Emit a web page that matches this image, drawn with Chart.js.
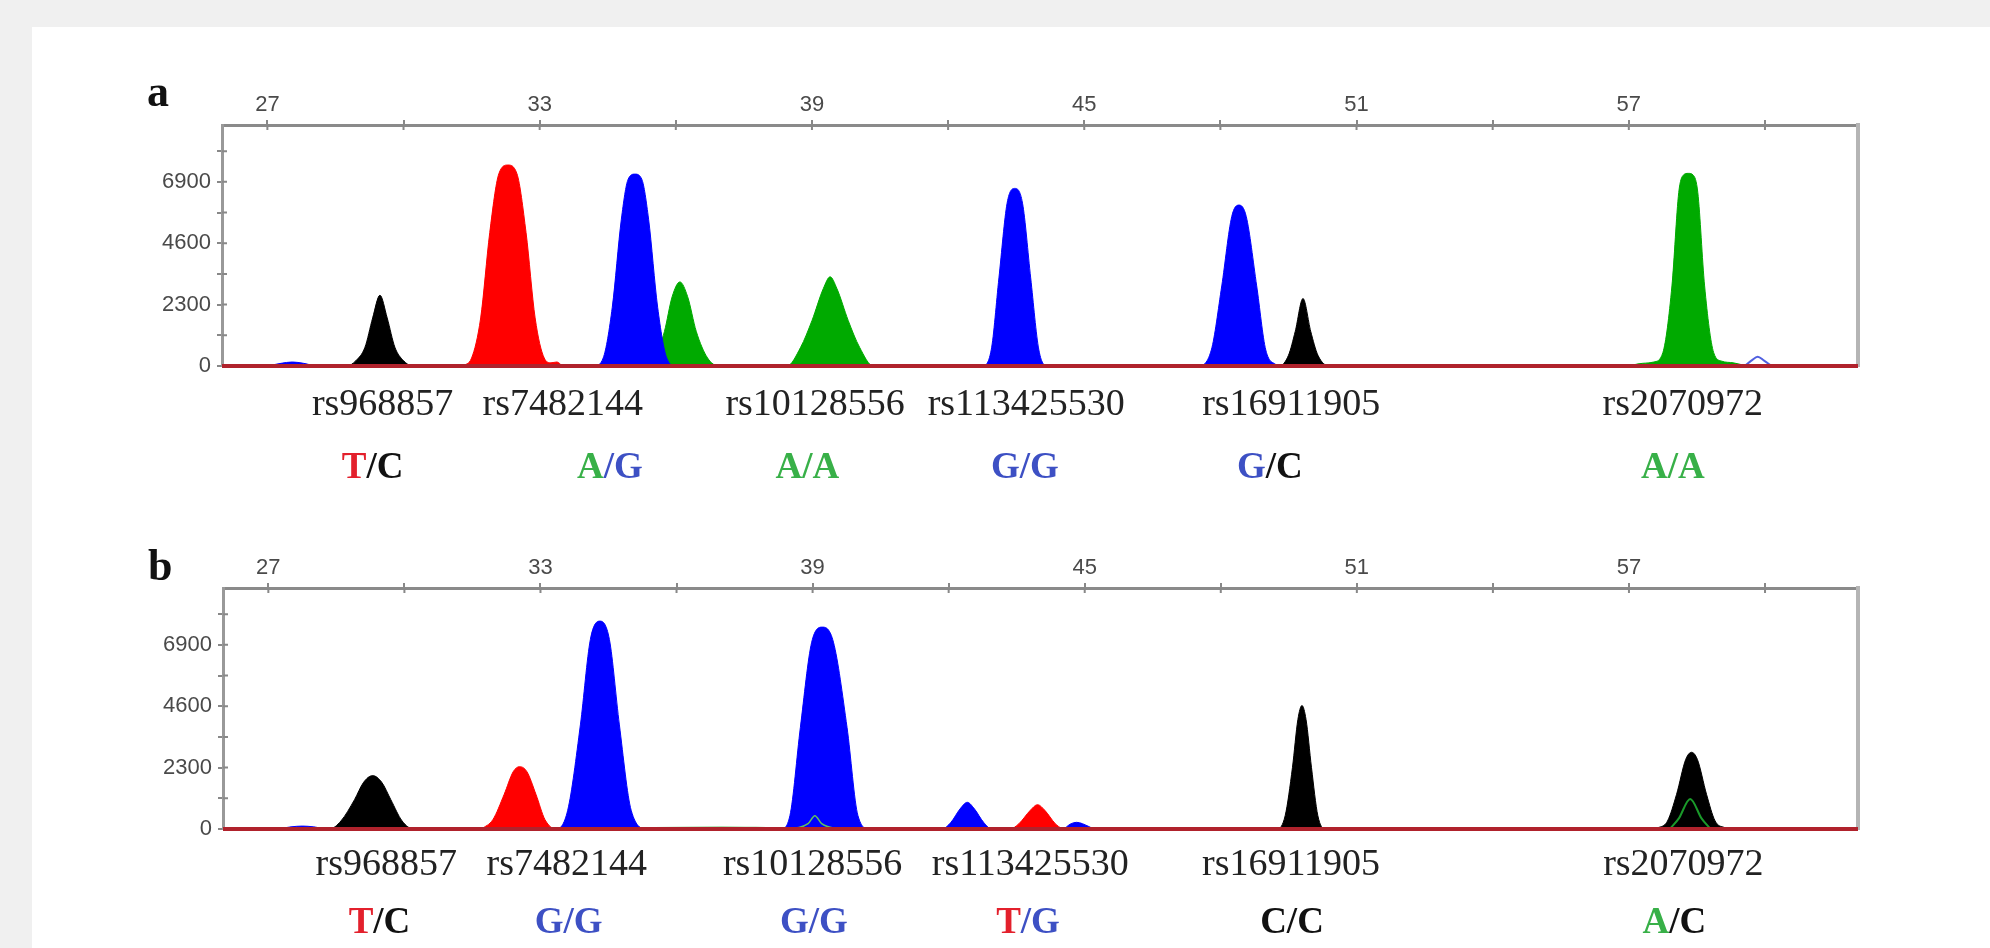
<!DOCTYPE html>
<html>
<head>
<meta charset="utf-8">
<script src="https://cdn.jsdelivr.net/npm/chart.js@4.4.1/dist/chart.umd.min.js"></script>
<style>
  html, body { margin: 0; padding: 0; background: #f0f0f0; width: 1990px; height: 948px; overflow: hidden; }
  #sheet { position: absolute; left: 32px; top: 27px; width: 1958px; height: 921px; background: #fff; }
  canvas { position: absolute; left: 0; }
  #ca { top: 0; }
  #cb { top: 480px; }
</style>
</head>
<body>
<div id="sheet">
  <canvas id="ca" width="1958" height="480"></canvas>
  <canvas id="cb" width="1958" height="441"></canvas>
</div>
<script>
// axis ticks (fragment size on top, RFU on the left)
const xTicks = [27, 30, 33, 36, 39, 42, 45, 48, 51, 54, 57, 60];
const xLabels = [27, 33, 39, 45, 51, 57];
const yTicks = [0, 1150, 2300, 3450, 4600, 5750, 6900, 8050];
const yLabels = [0, 2300, 4600, 6900];

const markerNames = ['rs968857', 'rs7482144', 'rs10128556', 'rs113425530', 'rs16911905', 'rs2070972'];

// panel a
const aNamePos = [29.54, 33.51, 39.07, 43.72, 49.56, 58.19];
const aGenotypes = ['T/C', 'A/G', 'A/A', 'G/G', 'G/C', 'A/A'];
const aGenoPos = [29.32, 34.55, 38.9, 43.69, 49.09, 57.97];

const aBlack = [[26, 0], [28.75, 0], [28.95, 200], [29.15, 700], [29.32, 1800], [29.48, 2650], [29.64, 1800], [29.81, 700], [30.0, 200], [30.2, 0],
  [49.3, 0], [49.5, 400], [49.65, 1300], [49.82, 2528], [49.99, 1300], [50.15, 400], [50.4, 0], [62, 0]];
const aRed = [[31.3, 0], [31.5, 300], [31.7, 1800], [31.9, 5000], [32.1, 7200], [32.3, 7530], [32.5, 7200], [32.7, 5000],
  [32.9, 1800], [33.1, 300], [33.25, 120], [33.38, 150], [33.5, 0]];
const aBlue = [[27.0, 0], [27.3, 100], [27.55, 150], [27.8, 100], [28.1, 0],
  [34.2, 0], [34.4, 300], [34.6, 2200], [34.8, 5500], [34.95, 7000], [35.1, 7190], [35.25, 7000], [35.4, 5500], [35.6, 2200], [35.8, 300], [36.0, 0],
  [42.75, 0], [42.95, 600], [43.12, 3300], [43.3, 6100], [43.47, 6655], [43.64, 6100], [43.82, 3300], [44.0, 600], [44.2, 0],
  [47.5, 0], [47.8, 600], [48.03, 3000], [48.25, 5600], [48.41, 6030], [48.57, 5600], [48.8, 3000], [49.0, 600], [49.25, 0]];
const aGreen = [[35.35, 0], [35.55, 300], [35.75, 1300], [35.92, 2600], [36.09, 3150], [36.26, 2600], [36.45, 1300], [36.7, 300], [36.95, 0],
  [38.45, 0], [38.75, 700], [39.0, 1700], [39.25, 2900], [39.4, 3340], [39.55, 2900], [39.8, 1700], [40.05, 700], [40.35, 0],
  [56.9, 0], [57.3, 100], [57.55, 150], [57.75, 500], [57.95, 3000], [58.1, 6500], [58.2, 7150], [58.31, 7218],
  [58.42, 7150], [58.52, 6500], [58.67, 3000], [58.87, 500], [59.05, 180], [59.3, 120], [59.6, 0]];
const aBlueOpen = [[59.55, 0], [59.7, 200], [59.84, 350], [59.98, 200], [60.15, 0]];

// panel b
const bNamePos = [29.6, 33.58, 39.0, 43.8, 49.55, 58.2];
const bGenotypes = ['T/C', 'G/G', 'G/G', 'T/G', 'C/C', 'A/C'];
const bGenoPos = [29.45, 33.62, 39.03, 43.75, 49.57, 58.0];

const bBlack = [[26, 0], [28.35, 0], [28.6, 300], [28.9, 1100], [29.1, 1750], [29.3, 2000], [29.5, 1750], [29.7, 1100], [29.95, 300], [30.2, 0],
  [49.25, 0], [49.42, 500], [49.58, 2300], [49.7, 4100], [49.79, 4626], [49.88, 4100], [50.0, 2300], [50.14, 500], [50.3, 0],
  [57.3, 0], [57.7, 80], [57.85, 300], [58.05, 1300], [58.25, 2600], [58.38, 2875], [58.51, 2600], [58.71, 1300], [58.9, 300],
  [59.1, 60], [59.4, 0], [62, 0]];
const bRed = [[31.7, 0], [31.95, 350], [32.2, 1300], [32.4, 2150], [32.54, 2337], [32.7, 2150], [32.9, 1300], [33.1, 350], [33.35, 0],
  [43.35, 0], [43.55, 200], [43.8, 700], [43.96, 912], [44.12, 700], [44.35, 200], [44.5, 0]];
const bBlue = [[27.2, 0], [27.5, 80], [27.75, 110], [28.0, 80], [28.3, 0],
  [33.35, 0], [33.6, 700], [33.88, 3900], [34.1, 7100], [34.31, 7790], [34.52, 7100], [34.74, 3900], [35.0, 700], [35.35, 0],
  [38.3, 0], [38.5, 500], [38.73, 3800], [38.98, 7000], [39.22, 7565], [39.46, 7000], [39.76, 3800], [40.0, 500], [40.25, 0],
  [41.85, 0], [42.05, 250], [42.25, 750], [42.41, 1000], [42.57, 750], [42.77, 250], [42.95, 0],
  [44.5, 0], [44.7, 200], [44.82, 250], [44.95, 200], [45.2, 0]];
const bGreenLine = [[34.5, 0], [35.5, 50], [37, 70], [38.5, 40], [38.9, 200], [39.05, 500], [39.2, 200], [39.5, 30], [40, 0]];
const bGreenOpen = [[57.9, 0], [58.1, 400], [58.35, 1125], [58.6, 400], [58.8, 0]];

const baseline = [[26, 0], [62.05, 0]];

const alleleColor = { A: '#38b048', C: '#111111', G: '#3d50c4', T: '#e3202c' };

function trace(points, color, order, filled, width) {
  return {
    data: points.map(([x, y]) => ({ x, y })),
    borderColor: color,
    backgroundColor: color,
    borderWidth: width || 1,
    fill: filled ? 'origin' : false,
    order: order,
    clip: false
  };
}

const markerText = {
  id: 'markerText',
  afterDraw(chart, args, o) {
    const ctx = chart.ctx, xs = chart.scales.x, ys = chart.scales.y, area = chart.chartArea;
    ctx.save();
    // inner half of the tick marks
    ctx.strokeStyle = '#888';
    ctx.lineWidth = 2;
    ctx.beginPath();
    xTicks.forEach(v => { const px = xs.getPixelForValue(v); ctx.moveTo(px, area.top); ctx.lineTo(px, area.top + 5); });
    yTicks.slice(1).forEach(v => { const py = ys.getPixelForValue(v); ctx.moveTo(area.left, py); ctx.lineTo(area.left + 5, py); });
    ctx.stroke();

    ctx.textBaseline = 'alphabetic';
    ctx.fillStyle = '#111';
    ctx.font = 'bold 44px "Liberation Serif"';
    ctx.textAlign = 'left';
    ctx.fillText(o.letter, area.left - 75, area.top + o.letterDy);

    ctx.font = '38px "Liberation Serif"';
    ctx.fillStyle = '#222';
    ctx.textAlign = 'center';
    markerNames.forEach((n, i) => ctx.fillText(n, xs.getPixelForValue(o.namePos[i]), area.bottom + o.nameDy));

    ctx.font = 'bold 37px "Liberation Serif"';
    ctx.textAlign = 'left';
    o.genos.forEach((g, i) => {
      const [a1, a2] = g.split('/');
      let x = xs.getPixelForValue(o.genoPos[i]) - ctx.measureText(g).width / 2;
      [[a1, alleleColor[a1]], ['/' + a2, alleleColor[a2]]].forEach(([t, c]) => {
        ctx.fillStyle = c;
        ctx.fillText(t, x, area.bottom + o.genoDy);
        x += ctx.measureText(t).width;
      });
    });
    ctx.restore();
  }
};

const tickFont = { family: '"Liberation Sans", Arial, sans-serif', size: 22 };

function makeChart(id, sets, o, pad) {
  return new Chart(document.getElementById(id), {
    type: 'line',
    data: { datasets: sets },
    options: {
      responsive: false,
      animation: false,
      devicePixelRatio: 1,
      layout: { padding: pad },
      plugins: { legend: { display: false }, tooltip: { enabled: false }, markerText: o },
      elements: { point: { radius: 0 }, line: { cubicInterpolationMode: 'monotone' } },
      scales: {
        x: {
          type: 'linear', position: 'top', min: 26, max: 62.05,
          afterBuildTicks: s => { s.ticks = xTicks.map(v => ({ value: v })); },
          afterFit: s => { s.height = 40; },
          ticks: { autoSkip: false, maxRotation: 0, padding: 2, color: '#4a4a4a', font: tickFont,
                   callback: v => xLabels.includes(v) ? String(v) : '' },
          grid: { drawOnChartArea: false, tickLength: 5, color: '#888', lineWidth: 2 },
          border: { color: '#8a8a8a', width: 3 }
        },
        y: {
          type: 'linear', min: 0, max: 9030,
          afterBuildTicks: s => { s.ticks = yTicks.map(v => ({ value: v })); },
          afterFit: s => { s.width = 80; },
          ticks: { autoSkip: false, padding: 6, color: '#4a4a4a', font: tickFont,
                   callback: v => yLabels.includes(v) ? String(v) : '' },
          grid: { drawOnChartArea: false, tickLength: 5, color: '#888', lineWidth: 2 },
          border: { color: '#999', width: 3 }
        },
        yRight: {
          type: 'linear', axis: 'y', position: 'right', min: 0, max: 1,
          afterFit: s => { s.width = 0; },
          ticks: { display: false }, grid: { display: false },
          border: { color: '#b5b5b5', width: 4 }
        }
      }
    },
    plugins: [markerText]
  });
}

makeChart('ca', [
  trace(baseline, '#b0222c', 0, false, 4),
  trace(aBlueOpen, '#5060e0', 1, false, 2),
  trace(aBlack, '#000000', 2, true),
  trace(aBlue, '#0000ff', 3, true),
  trace(aGreen, '#00aa00', 4, true),
  trace(aRed, '#ff0000', 5, true)
], { letter: 'a', letterDy: -19, namePos: aNamePos, nameDy: 49, genos: aGenotypes, genoPos: aGenoPos, genoDy: 112 },
   { left: 110, right: 132, top: 58, bottom: 141 });

makeChart('cb', [
  trace(baseline, '#b0222c', 0, false, 4),
  trace(bGreenOpen, '#1a9a2a', 1, false, 2),
  trace(bGreenLine, '#60c060', 2, false, 1.5),
  trace(bBlack, '#000000', 3, true),
  trace(bBlue, '#0000ff', 4, true),
  trace(bRed, '#ff0000', 5, true)
], { letter: 'b', letterDy: -8, namePos: bNamePos, nameDy: 46, genos: bGenotypes, genoPos: bGenoPos, genoDy: 104 },
   { left: 111, right: 132, top: 41, bottom: 119 });
</script>
</body>
</html>
